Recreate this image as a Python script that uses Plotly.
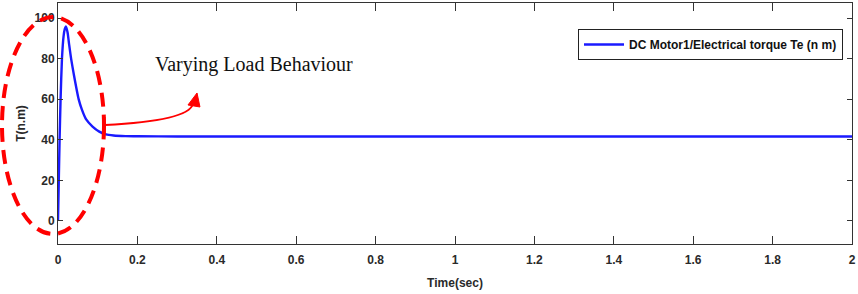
import plotly.graph_objects as go

# ---- data ----
time_s = [0, 0.001, 0.002, 0.004, 0.0065, 0.010, 0.014, 0.017, 0.020, 0.024, 0.028,
          0.033, 0.040, 0.052, 0.060, 0.071, 0.087, 0.104, 0.121, 0.140, 0.170,
          0.200, 0.300, 0.500, 1.000, 1.500, 2.000]
torque = [0, 10, 20, 40, 60, 80, 91, 94.5, 95.9, 93, 87,
          80, 72, 60, 55, 50, 46.5, 44, 42.6, 42.1, 41.8,
          41.7, 41.6, 41.6, 41.6, 41.6, 41.6]
series_name = "DC Motor1/Electrical torque Te (n m)"
x_ticks = [0, 0.2, 0.4, 0.6, 0.8, 1, 1.2, 1.4, 1.6, 1.8, 2]
x_tick_text = ["0", "0.2", "0.4", "0.6", "0.8", "1", "1.2", "1.4", "1.6", "1.8", "2"]
y_ticks = [0, 20, 40, 60, 80, 100]
annotation_text = "Varying Load Behaviour"

W, H = 858, 294
ML, MR, MT, MB = 58, 6, 3, 50
PW, PH = W - ML - MR, H - MT - MB


def px(X):
    return (X - ML) / PW


def py(Y):
    return (H - MB - Y) / PH


tick_font = dict(family="Liberation Sans, Arial", size=12, color="#2a2a2a", weight="bold")

fig = go.Figure()
fig.add_trace(go.Scatter(x=time_s, y=torque, mode="lines", name=series_name,
                         line=dict(color="#1a1aff", width=2.4, shape="spline", smoothing=0.6)))

fig.update_layout(
    width=W, height=H,
    margin=dict(l=ML, r=MR, t=MT, b=MB, autoexpand=False),
    paper_bgcolor="white", plot_bgcolor="white",
    showlegend=True,
    legend=dict(x=px(843), y=py(29), xanchor="right", yanchor="top",
                bgcolor="white", bordercolor="#222", borderwidth=1,
                font=dict(family="Liberation Sans, Arial", size=12, color="#111", weight="bold"),
                itemwidth=40, tracegroupgap=0),
    xaxis=dict(range=[0, 2], tickvals=x_ticks, ticktext=x_tick_text, automargin=False,
               ticklabeloverflow="allow", ticklabelstandoff=5,
               ticks="inside", ticklen=8, tickcolor="#333", showgrid=False, zeroline=False,
               showline=True, linecolor="#333", linewidth=1, mirror="ticks",
               tickfont=tick_font,
               title=dict(text="Time(sec)", font=tick_font, standoff=12)),
    yaxis=dict(range=[-11.4, 107.4], tickvals=y_ticks, automargin=False,
               ticks="inside", ticklen=5, tickcolor="#333", showgrid=False, zeroline=False,
               showline=True, linecolor="#333", linewidth=1, mirror="ticks",
               tickfont=tick_font,
               title=dict(text="T(n.m)", font=tick_font, standoff=6)),
)

# red dashed ellipse
fig.add_shape(type="circle", xref="paper", yref="paper",
              x0=px(2), x1=px(104), y0=py(234), y1=py(17),
              line=dict(color="#ff0000", width=4, dash="14px,8px"))

# red tick mark and curved arrow
fig.add_shape(type="line", xref="paper", yref="paper",
              x0=px(104), x1=px(104), y0=py(117), y1=py(133),
              line=dict(color="#ff0000", width=3))
path = "M {:.4f},{:.4f} Q {:.4f},{:.4f} {:.4f},{:.4f}".format(
    px(105), py(125), px(188), py(121), px(193), py(104))
fig.add_shape(type="path", xref="paper", yref="paper", path=path,
              line=dict(color="#ff0000", width=2))
head = "M {:.4f},{:.4f} L {:.4f},{:.4f} L {:.4f},{:.4f} Z".format(
    px(197), py(93), px(188), py(105), px(200), py(107))
fig.add_shape(type="path", xref="paper", yref="paper", path=head,
              fillcolor="#ff0000", line=dict(color="#ff0000", width=1))

fig.add_annotation(xref="paper", yref="paper", x=px(153), y=py(64),
                   xanchor="left", yanchor="middle", showarrow=False,
                   text=annotation_text,
                   font=dict(family="Liberation Serif, Times New Roman, serif", size=20, color="#111"))

fig.write_html("out.html", config={"displayModeBar": False},
               post_script="document.body.style.margin='0';")
